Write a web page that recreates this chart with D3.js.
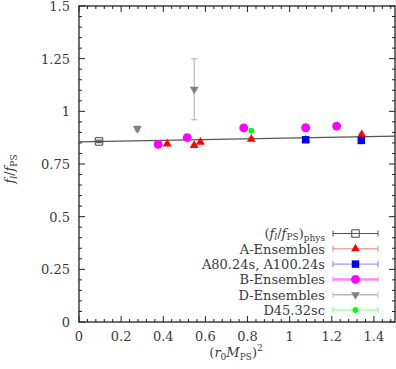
<!DOCTYPE html>
<html>
<head>
<meta charset="utf-8">
<script src="https://cdn.jsdelivr.net/npm/d3@7"></script>
<style>
  body { margin: 0; background: #fff; }
  svg text { font-family: "DejaVu Serif", serif; }
</style>
</head>
<body>
<svg id="chart" width="396" height="369"></svg>
<script>
// data
const physPoint = [{x: 0.095, y: 0.857, ex: 0.012, ey: 0.006}];
const aEnsembles = [
  {x: 0.419, y: 0.845, ey: 0.006}, {x: 0.547, y: 0.838, ey: 0.006},
  {x: 0.576, y: 0.854, ey: 0.006}, {x: 0.818, y: 0.868, ey: 0.006},
  {x: 1.076, y: 0.864, ey: 0.006}, {x: 1.342, y: 0.889, ey: 0.006}
];
const aSpecial = [{x: 1.076, y: 0.865, ey: 0.005}, {x: 1.340, y: 0.862, ey: 0.005}];
const bEnsembles = [
  {x: 0.376, y: 0.843, ey: 0.006}, {x: 0.514, y: 0.875, ey: 0.006},
  {x: 0.782, y: 0.921, ey: 0.006}, {x: 1.076, y: 0.922, ey: 0.006},
  {x: 1.223, y: 0.930, ey: 0.006}
];
const dEnsembles = [{x: 0.277, y: 0.918, ey: 0.012}, {x: 0.547, y: 1.105, ey: 0.145}];
const d45 = [{x: 0.818, y: 0.908, ey: 0.006}];
const fitLine = [{x: 0, y: 0.855}, {x: 1.5, y: 0.882}];

const xTicks = [0, 0.2, 0.4, 0.6, 0.8, 1, 1.2, 1.4];
const yTicks = [0, 0.25, 0.5, 0.75, 1, 1.25, 1.5];
const legendNames = ["A-Ensembles", "A80.24s, A100.24s", "B-Ensembles", "D-Ensembles", "D45.32sc"];

const svg = d3.select('#chart');
const m = {left: 79, right: 395, top: 6, bottom: 322};
const x = d3.scaleLinear().domain([0, 1.5]).range([m.left, m.right]);
const y = d3.scaleLinear().domain([0, 1.5]).range([m.bottom, m.top]);
const txt = '#3a3a3a';
const fs = 13;

// frame
svg.append('rect')
   .attr('x', m.left).attr('y', m.top)
   .attr('width', m.right - m.left).attr('height', m.bottom - m.top)
   .attr('fill', 'none').attr('stroke', '#222').attr('stroke-width', 1.3);

// ticks, major and minor, mirrored
const xMinor = d3.range(0, 1.5001, 0.04).filter(v => v < 1.5);
const yMinor = d3.range(0, 1.5001, 0.05);
const tk = svg.append('g').attr('stroke', '#222').attr('stroke-width', 1);
xMinor.forEach(v => {
  const major = xTicks.some(t => Math.abs(t - v) < 1e-6);
  const len = major ? 6 : 3;
  tk.append('line').attr('x1', x(v)).attr('x2', x(v)).attr('y1', m.bottom).attr('y2', m.bottom - len);
  tk.append('line').attr('x1', x(v)).attr('x2', x(v)).attr('y1', m.top).attr('y2', m.top + len);
});
yMinor.forEach(v => {
  const major = yTicks.some(t => Math.abs(t - v) < 1e-6);
  const len = major ? 6 : 3;
  tk.append('line').attr('y1', y(v)).attr('y2', y(v)).attr('x1', m.left).attr('x2', m.left + len);
  tk.append('line').attr('y1', y(v)).attr('y2', y(v)).attr('x1', m.right).attr('x2', m.right - len);
});

svg.selectAll('.xl').data(xTicks).enter().append('text')
   .attr('x', d => x(d)).attr('y', 341).attr('text-anchor', 'middle')
   .attr('font-size', fs).attr('fill', txt).text(d => d);
svg.selectAll('.yl').data(yTicks).enter().append('text')
   .attr('x', 70).attr('y', d => y(d) + 5).attr('text-anchor', 'end')
   .attr('font-size', fs).attr('fill', txt).text(d => d);

// axis titles
const xt = svg.append('text').attr('x', 236).attr('y', 357).attr('text-anchor', 'middle')
   .attr('font-size', fs).attr('fill', txt);
xt.append('tspan').text('(');
xt.append('tspan').attr('font-style', 'italic').text('r');
xt.append('tspan').attr('font-size', 9).attr('dy', 3).text('0');
xt.append('tspan').attr('font-style', 'italic').attr('dy', -3).text('M');
xt.append('tspan').attr('font-size', 9).attr('dy', 3).text('PS');
xt.append('tspan').attr('dy', -3).text(')');
xt.append('tspan').attr('font-size', 9).attr('dy', -6).text('2');

const yt = svg.append('text').attr('transform', 'translate(14,169) rotate(-90)')
   .attr('text-anchor', 'middle').attr('font-size', fs).attr('fill', txt);
yt.append('tspan').attr('font-style', 'italic').text('f');
yt.append('tspan').attr('font-size', 9).attr('font-style', 'italic').attr('dy', 3).text('l');
yt.append('tspan').attr('dy', -3).text('/');
yt.append('tspan').attr('font-style', 'italic').text('f');
yt.append('tspan').attr('font-size', 9).attr('dy', 3).text('PS');

// fit line
svg.append('path').datum(fitLine)
   .attr('d', d3.line().x(d => x(d.x)).y(d => y(d.y)))
   .attr('stroke', '#555').attr('stroke-width', 1.2).attr('fill', 'none');

const sym = {
  square: d3.symbol().type(d3.symbolSquare).size(56),
  tri: d3.symbol().type(d3.symbolTriangle).size(34),
  circle: d3.symbol().type(d3.symbolCircle).size(62),
  small: d3.symbol().type(d3.symbolCircle).size(26)
};

function errBars(data, color, w) {
  const g = svg.append('g').attr('stroke', color).attr('stroke-width', w);
  data.forEach(d => {
    g.append('line').attr('x1', x(d.x)).attr('x2', x(d.x)).attr('y1', y(d.y - d.ey)).attr('y2', y(d.y + d.ey));
    g.append('line').attr('x1', x(d.x) - 3).attr('x2', x(d.x) + 3).attr('y1', y(d.y - d.ey)).attr('y2', y(d.y - d.ey));
    g.append('line').attr('x1', x(d.x) - 3).attr('x2', x(d.x) + 3).attr('y1', y(d.y + d.ey)).attr('y2', y(d.y + d.ey));
  });
}
function marks(data, path, fill, stroke, rot) {
  svg.append('g').selectAll('path').data(data).enter().append('path')
     .attr('d', path)
     .attr('transform', d => `translate(${x(d.x)},${y(d.y)})` + (rot ? ' rotate(180)' : ''))
     .attr('fill', fill).attr('stroke', stroke || 'none').attr('stroke-width', 1);
}

errBars(dEnsembles, '#bbbbbb', 1.2);
marks(dEnsembles, sym.tri(), '#808080', null, true);
errBars(bEnsembles, '#ff88ff', 2);
marks(bEnsembles, sym.circle(), '#ff00ff');
errBars(aEnsembles, '#f08080', 1);
marks(aEnsembles, sym.tri(), '#ff0000');
errBars(aSpecial, '#8080ff', 1);
marks(aSpecial, sym.square(), '#0000ff');
errBars(d45, '#80ff80', 1);
marks(d45, sym.small(), '#00ff00');
errBars(physPoint, '#444', 1);
marks(physPoint, sym.square(), 'none', '#444');

// legend
const lg = svg.append('g');
const rows = [
  {color: '#555', w: 1, path: sym.square(), fill: 'none', stroke: '#444', rot: false},
  {color: '#f08080', w: 1, path: sym.tri(), fill: '#ff0000', rot: false},
  {color: '#8080ff', w: 1, path: sym.square(), fill: '#0000ff', rot: false},
  {color: '#ff88ff', w: 2.5, path: sym.circle(), fill: '#ff00ff', rot: false},
  {color: '#bbbbbb', w: 1.5, path: sym.tri(), fill: '#808080', rot: true},
  {color: '#80ff80', w: 1, path: sym.small(), fill: '#00ff00', rot: false}
];
rows.forEach((r, i) => {
  const yy = 233.5 + i * 15.3;
  lg.append('line').attr('x1', 333).attr('x2', 378).attr('y1', yy).attr('y2', yy).attr('stroke', r.color).attr('stroke-width', r.w);
  [333, 378].forEach(xx => lg.append('line').attr('x1', xx).attr('x2', xx).attr('y1', yy - 3).attr('y2', yy + 3).attr('stroke', r.color).attr('stroke-width', 1));
  lg.append('path').attr('d', r.path)
    .attr('transform', `translate(355.5,${yy})` + (r.rot ? ' rotate(180)' : ''))
    .attr('fill', r.fill).attr('stroke', r.stroke || 'none');
  if (i > 0) {
    lg.append('text').attr('x', 325).attr('y', yy + 5).attr('text-anchor', 'end')
      .attr('font-size', fs).attr('fill', txt).text(legendNames[i - 1]);
  }
});
const pt = lg.append('text').attr('x', 325).attr('y', 233.5 + 4).attr('text-anchor', 'end')
   .attr('font-size', fs).attr('fill', txt);
pt.append('tspan').text('(');
pt.append('tspan').attr('font-style', 'italic').text('f');
pt.append('tspan').attr('font-size', 9).attr('font-style', 'italic').attr('dy', 2).text('l');
pt.append('tspan').attr('dy', -2).text('/');
pt.append('tspan').attr('font-style', 'italic').text('f');
pt.append('tspan').attr('font-size', 9).attr('dy', 2).text('PS');
pt.append('tspan').attr('dy', -2).text(')');
pt.append('tspan').attr('font-size', 9).attr('dy', 3).text('phys');
</script>
</body>
</html>
